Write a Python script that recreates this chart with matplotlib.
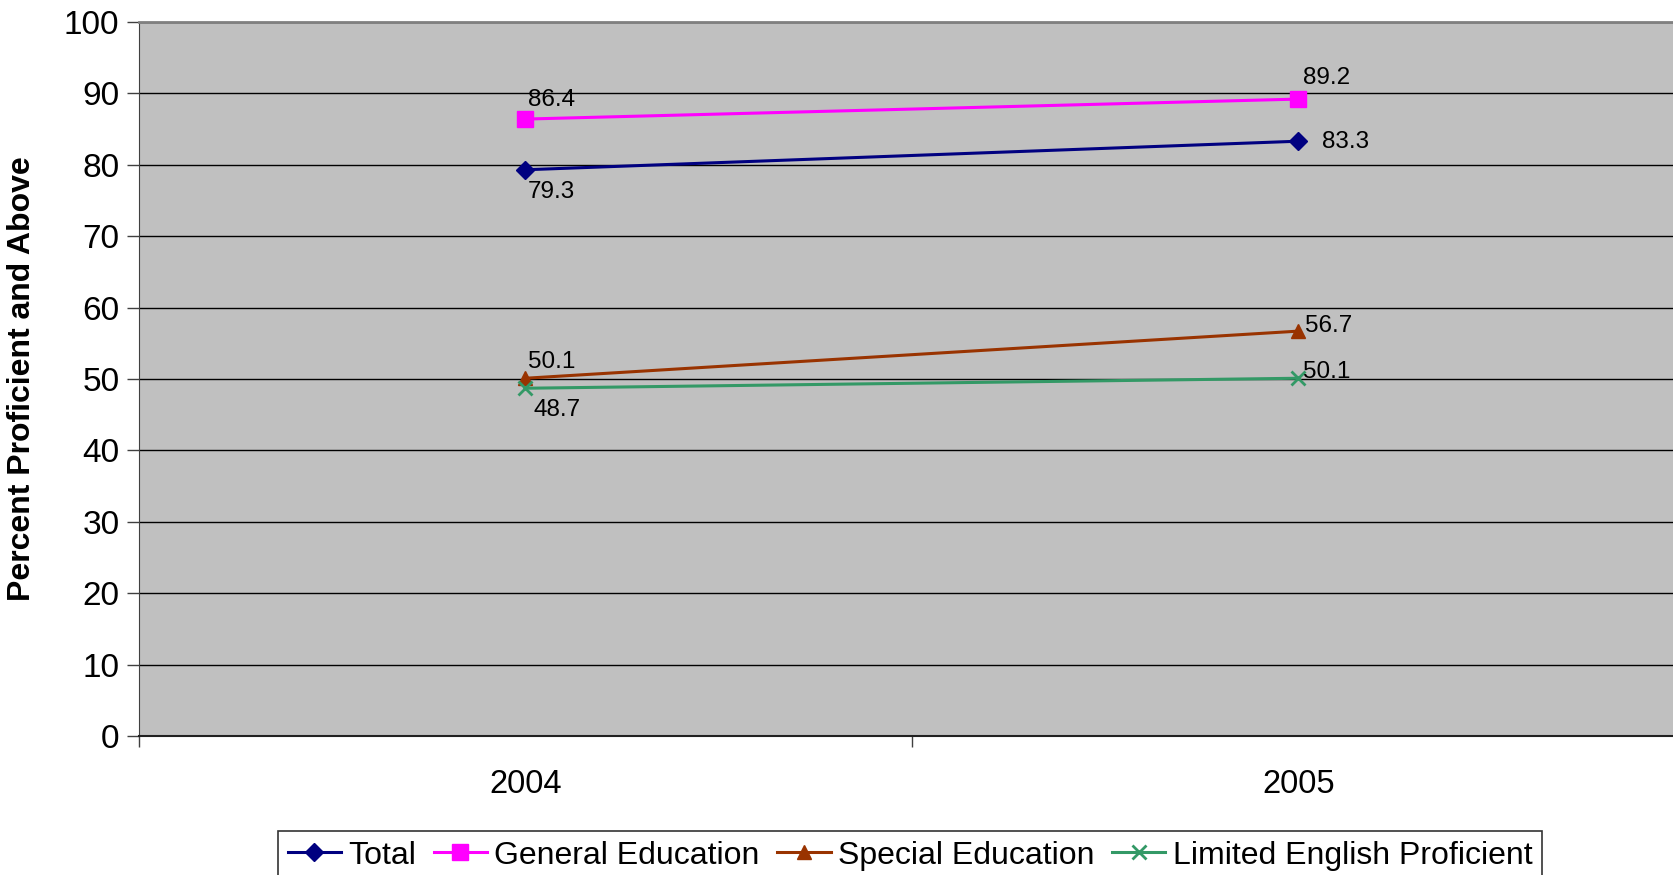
import matplotlib
matplotlib.use('Agg')
import matplotlib.pyplot as plt
import numpy as np

plt.rcParams['font.family'] = ['Liberation Sans', 'DejaVu Sans']

years = ['2004', '2005']
total = [79.3, 83.3]
general_ed = [86.4, 89.2]
special_ed = [50.1, 56.7]
lep = [48.7, 50.1]

series_names = ['Total', 'General Education', 'Special Education',
                'Limited English Proficient']
series_values = [total, general_ed, special_ed, lep]
colors = ['#000080', '#FF00FF', '#993300', '#339966']
markers = ['D', 's', '^', 'x']
marker_sizes = [9.5, 11, 10.5, 10.5]
# label offsets in pixels (x, y) for each point
label_offsets = [[(2, -22), (24, -1)],
                 [(3, 19), (5, 21)],
                 [(3, 16), (7, 5)],
                 [(8, -22), (5, 6)]]

fig = plt.figure(figsize=(16.74, 8.75), dpi=100)
ax = fig.add_axes([0.0830, 0.1589, 0.9235, 0.816])
ax.set_facecolor('#C0C0C0')

x = np.arange(len(years))
for name, values, color, marker, ms, offsets in zip(
        series_names, series_values, colors, markers, marker_sizes,
        label_offsets):
    ax.plot(x, values, color=color, marker=marker, markersize=ms,
            linewidth=2.2, markeredgewidth=2 if marker == 'x' else 1,
            markerfacecolor=color, markeredgecolor=color, label=name,
            clip_on=False, zorder=3)
    for xi, v, off in zip(x, values, offsets):
        ax.annotate('{:.1f}'.format(v), (xi, v), xytext=off,
                    textcoords='offset pixels', ha='left', va='center',
                    fontsize=17.5)

ax.set_xlim(-0.5, len(years) - 0.5)
ax.set_ylim(0, 100)
ax.set_yticks(np.arange(0, 101, 10))
ax.yaxis.grid(True, color='black', linewidth=1)
ax.set_axisbelow(True)

# tick marks between categories, labels at the centres
ax.set_xticks(np.arange(-0.5, len(years), 1.0))
ax.set_xticklabels([])
ax.set_xticks(x, minor=True)
ax.set_xticklabels(years, minor=True)
ax.tick_params(axis='x', which='major', length=8, width=1, direction='out',
               color='#404040')
ax.tick_params(axis='x', which='minor', length=0, pad=24, labelsize=23.5)
ax.tick_params(axis='y', length=9, width=1, direction='out', labelsize=24,
               color='#404040', pad=5)

ax.spines['right'].set_visible(False)
ax.spines['top'].set_color('#808080')
ax.spines['top'].set_linewidth(2)
ax.spines['left'].set_color('#404040')
ax.spines['bottom'].set_color('#202020')
ax.spines['bottom'].set_linewidth(1.5)

ax.set_ylabel('Percent Proficient and Above', fontsize=23, fontweight='bold')
ax.yaxis.set_label_coords(-0.066, 0.5)

leg = fig.legend(loc='upper left', bbox_to_anchor=(278 / 1674, 1 - 831 / 875),
                 ncol=4, fontsize=23, frameon=True, fancybox=False,
                 edgecolor='black', handlelength=1.67, handletextpad=0.23,
                 columnspacing=0.55, borderpad=0.3, borderaxespad=0)
leg.get_frame().set_linewidth(1.2)

fig.savefig('out.png', dpi=100)
